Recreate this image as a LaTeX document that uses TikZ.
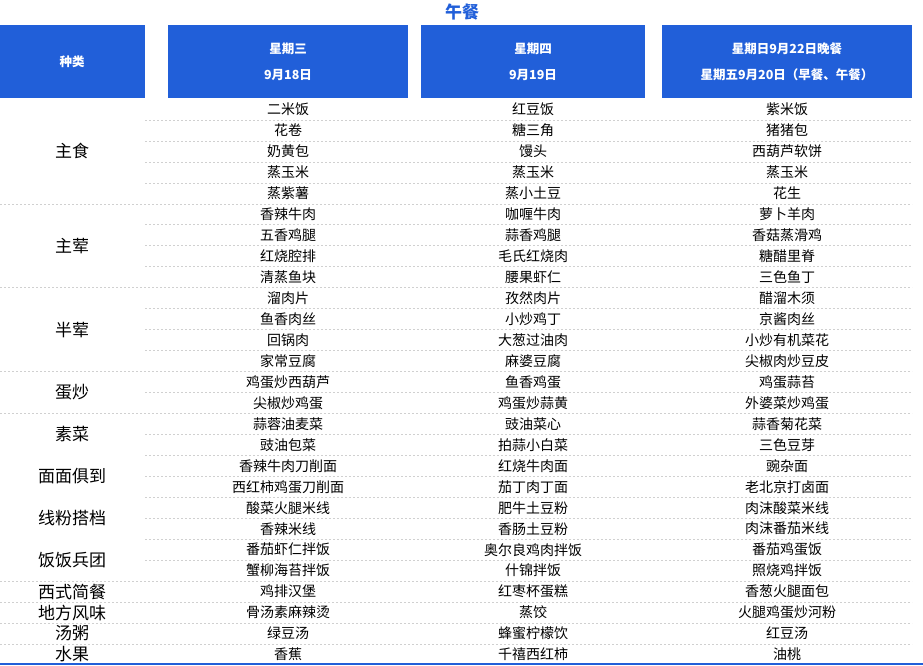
\documentclass[tikz,border=0pt]{standalone}
\usepackage{fontspec}
\setmainfont{Noto Sans CJK SC}
\definecolor{hb}{HTML}{215FD9}
\definecolor{dl}{HTML}{D0D0D0}
\begin{document}
\begin{tikzpicture}[x=1pt,y=-1pt,
 hbox/.style={fill=hb,draw=none},
 htxt/.style={text=white,font=\fontsize{12.5}{14}\selectfont\bfseries,align=center},
 cell/.style={font=\fontsize{14}{16}\selectfont,inner sep=0pt},
 cat/.style={font=\fontsize{17}{19}\selectfont,inner sep=0pt},
 sep/.style={draw=dl,dash pattern=on 2pt off 2pt,line width=0.6pt}]
\useasboundingbox (0,0) rectangle (923,666);
\node[text=hb,font=\fontsize{17}{19}\selectfont\bfseries] (title) at (462,12) {午餐};
\fill[hb] (0,25) rectangle (145,98);
\fill[hb] (168,25) rectangle (408,98);
\fill[hb] (421,25) rectangle (645,98);
\fill[hb] (662,25) rectangle (912,98);
\node[htxt] (h0) at (72,62) {种类};
\node[htxt] (h1a) at (288,49) {星期三};
\node[htxt] (h1b) at (288,75) {9月18日};
\node[htxt] (h2a) at (533,49) {星期四};
\node[htxt] (h2b) at (533,75) {9月19日};
\node[htxt] (h3a) at (787,49) {星期日9月22日晚餐};
\node[htxt] (h3b) at (787,75) {星期五9月20日（早餐、午餐）};
\def\rh{20.96}
\foreach \a/\b/\c [count=\i from 0] in {
二米饭/红豆饭/紫米饭, 花卷/糖三角/猪猪包, 奶黄包/馒头/西葫芦软饼, 蒸玉米/蒸玉米/蒸玉米, 蒸紫薯/蒸小土豆/花生,
香辣牛肉/咖喱牛肉/萝卜羊肉, 五香鸡腿/蒜香鸡腿/香菇蒸滑鸡, 红烧腔排/毛氏红烧肉/糖醋里脊, 清蒸鱼块/腰果虾仁/三色鱼丁,
溜肉片/孜然肉片/醋溜木须, 鱼香肉丝/小炒鸡丁/京酱肉丝, 回锅肉/大葱过油肉/小炒有机菜花, 家常豆腐/麻婆豆腐/尖椒肉炒豆皮,
鸡蛋炒西葫芦/鱼香鸡蛋/鸡蛋蒜苔, 尖椒炒鸡蛋/鸡蛋炒蒜黄/外婆菜炒鸡蛋,
蒜蓉油麦菜/豉油菜心/蒜香菊花菜, 豉油包菜/拍蒜小白菜/三色豆芽,
香辣牛肉刀削面/红烧牛肉面/豌杂面, 西红柿鸡蛋刀削面/茄丁肉丁面/老北京打卤面,
酸菜火腿米线/肥牛土豆粉/肉沫酸菜米线, 香辣米线/香肠土豆粉/肉沫番茄米线,
番茄虾仁拌饭/奥尔良鸡肉拌饭/番茄鸡蛋饭, 蟹柳海苔拌饭/什锦拌饭/照烧鸡拌饭,
鸡排汉堡/红枣杯蛋糕/香葱火腿面包, 骨汤素麻辣烫/蒸饺/火腿鸡蛋炒河粉,
绿豆汤/蜂蜜柠檬饮/红豆汤, 香蕉/千禧西红柿/油桃}{
 \node[cell] (a\i) at (288,{99+\rh*(\i+0.5)}) {\a};
 \node[cell] (b\i) at (533,{99+\rh*(\i+0.5)}) {\b};
 \node[cell] (c\i) at (787,{99+\rh*(\i+0.5)}) {\c};
}
% separators
\foreach \k in {1,2,3,4,6,7,8,10,11,12,14,16,17,18,19,20,21,22}
 \draw[sep] (145,{99+\rh*\k}) -- (912,{99+\rh*\k});
\foreach \k in {5,9,13,15,23,24,25,26}
 \draw[sep] (0,{99+\rh*\k}) -- (912,{99+\rh*\k});
\draw[hb,line width=1.5pt] (0,664) -- (923,664);
% categories
\foreach \t/\s/\n [count=\j] in {主食/0/5,主荤/5/4,半荤/9/4,蛋炒/13/2,素菜/15/2,面面俱到/17/2,线粉搭档/19/2,饭饭兵团/21/2,西式简餐/23/1,地方风味/24/1,汤粥/25/1,水果/26/1}
 \node[cat] (k\j) at (72,{99+\rh*(\s+\n/2)}) {\t};
\end{tikzpicture}
\end{document}
